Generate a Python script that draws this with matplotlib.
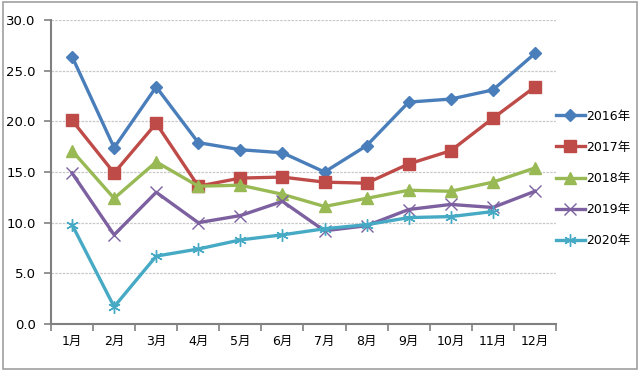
import matplotlib.pyplot as plt
from matplotlib.patches import Rectangle
import numpy as np

plt.rcParams['font.family'] = ['DejaVu Sans', 'Noto Sans CJK SC']

months = ['1月', '2月', '3月', '4月', '5月', '6月', '7月', '8月', '9月', '10月', '11月', '12月']
y2016 = [26.4, 17.4, 23.4, 17.9, 17.2, 16.9, 15.0, 17.6, 21.9, 22.2, 23.1, 26.7]
y2017 = [20.1, 14.9, 19.8, 13.6, 14.4, 14.5, 14.0, 13.9, 15.8, 17.1, 20.3, 23.4]
y2018 = [17.1, 12.4, 16.0, 13.6, 13.7, 12.8, 11.6, 12.4, 13.2, 13.1, 14.0, 15.4]
y2019 = [14.9, 8.8, 13.0, 10.0, 10.7, 12.1, 9.2, 9.7, 11.3, 11.8, 11.5, 13.1]
y2020 = [9.8, 1.7, 6.7, 7.4, 8.3, 8.8, 9.4, 9.8, 10.5, 10.6, 11.1]

series = [
    ('2016年', y2016, '#4a7ebb', 'D', 6),
    ('2017年', y2017, '#be4b48', 's', 8),
    ('2018年', y2018, '#98b954', '^', 8),
    ('2019年', y2019, '#7d60a0', 'x', 8),
    ('2020年', y2020, '#46aac5', (6, 2, 0), 9),
]

fig = plt.figure(figsize=(6.4, 3.71), dpi=100)
ax = fig.add_axes([0.0797, 0.1267, 0.789, 0.8193])

for name, vals, color, marker, ms in series:
    x = np.arange(1, len(vals) + 1)
    ax.plot(x, vals, color=color, lw=2.4, marker=marker, markersize=ms,
            markeredgewidth=1.0, label=name, clip_on=False)

ax.set_xlim(0.5, 12.5)
ax.set_ylim(0, 30)
ax.set_yticks(np.arange(0, 31, 5))
ax.set_yticklabels([f'{v:.1f}' for v in np.arange(0, 31, 5)], fontsize=9.5)
ax.set_xticks(np.arange(1, 13))
ax.set_xticklabels(months, fontsize=9)
ax.set_xticks(np.arange(0.5, 13, 1), minor=True)
ax.tick_params(axis='x', which='major', length=0, pad=8)
ax.tick_params(axis='x', which='minor', length=5, width=1.2, color='#808080')
ax.tick_params(axis='y', length=5, width=1.2, color='#808080', pad=6)

ax.grid(axis='y', color='#c8c8c8', lw=0.9, ls=(0, (2, 1)))
ax.set_axisbelow(True)
for s in ['top', 'right']:
    ax.spines[s].set_visible(False)
for s in ['left', 'bottom']:
    ax.spines[s].set_color('#808080')
    ax.spines[s].set_linewidth(1.5)

ax.legend(loc='upper left', bbox_to_anchor=(1.0, 0.705), frameon=False,
          fontsize=9, handlelength=2.3, handletextpad=0.15, labelspacing=1.45,
          borderaxespad=0, borderpad=0)

fig.patches.append(Rectangle((0.004, 0.006), 0.991, 0.988, transform=fig.transFigure,
                             fill=False, edgecolor='#a0a0a0', lw=1.2))

fig.savefig('out.png', dpi=100)
